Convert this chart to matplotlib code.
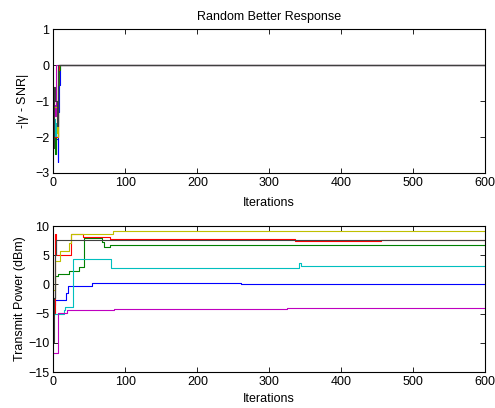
import matplotlib
matplotlib.use("Agg")
import matplotlib.pyplot as plt

plt.rcParams['font.family'] = ['Liberation Sans', 'DejaVu Sans']
plt.rcParams['mathtext.fontset'] = 'custom'
plt.rcParams['mathtext.rm'] = 'Liberation Sans'
plt.rcParams['mathtext.it'] = 'Liberation Sans'

# MATLAB default colour order
colors = [(0, 0, 1), (0, 0.5, 0), (1, 0, 0), (0, 0.75, 0.75),
          (0.75, 0, 0.75), (0.75, 0.75, 0), (0.25, 0.25, 0.25)]

# -|gamma - SNR| per user: iterations where the value changes, and the new value
snr_iter = [
    [0, 6, 7, 8, 9, 600],
    [0, 2, 3, 7, 8, 9, 600],
    [0, 1, 2, 7, 8, 600],
    [0, 2, 3, 6, 600],
    [0, 2, 4, 600],
    [0, 5, 6, 7, 600],
    [0, 1, 2, 5, 6, 7, 600],
]
snr_vals = [
    [-2.05, -2.7, -1.3, -0.56, 0, 0],
    [-1.9, -2.47, -2.0, -0.56, -0.14, 0, 0],
    [-0.6, -1.8, -2.0, -0.14, 0, 0],
    [-1.5, -1.97, -1.6, 0, 0],
    [-1.1, -1.4, 0, 0],
    [-1.15, -1.9, -2.0, 0, 0],
    [-2.3, -0.6, -1.0, -1.7, -0.4, 0, 0],
]

# Transmit power (dBm) per user: iterations where the value changes, and the new value
pow_iter = [
    [0, 2, 18, 20, 53, 261, 600],
    [0, 2, 7, 21, 35, 42, 67, 70, 79, 600],
    [0, 2, 4, 25, 41, 79, 336, 455, 600],
    [0, 14, 16, 27, 80, 342, 344, 600],
    [0, 7, 19, 84, 324, 600],
    [0, 2, 9, 21, 24, 83, 600],
    [0, 1, 2, 3, 600],
]
pow_vals = [
    [-3.5, -2.65, -1.5, -0.3, 0.2, 0.0, 0.0],
    [-2.4, 1.4, 1.85, 2.35, 3.0, 8.0, 7.2, 6.4, 6.7, 6.7],
    [-5.0, 8.7, 5.0, 8.6, 8.1, 7.83, 7.5, 7.67, 7.67],
    [-5.0, -4.4, -3.9, 4.35, 2.75, 3.6, 3.15, 3.15],
    [-11.8, -4.95, -4.3, -4.15, -3.95, -3.95],
    [-0.9, 4.0, 5.8, 7.1, 8.7, 9.2, 9.2],
    [-9.8, -2.4, 5.0, 7.67, 7.67],
]

x_ticks = [0, 100, 200, 300, 400, 500, 600]
snr_ticks = [-3, -2, -1, 0, 1]
pow_ticks = [-15, -10, -5, 0, 5, 10]

fig = plt.figure(figsize=(4.95, 4.08), dpi=100)
ax1 = fig.add_axes([0.108, 0.576, 0.872, 0.352])
ax2 = fig.add_axes([0.108, 0.088, 0.872, 0.358])

fs = 9
for xs, ys, c in zip(snr_iter, snr_vals, colors):
    ax1.step(xs, ys, where='post', color=c, lw=0.8)
for xs, ys, c in zip(pow_iter, pow_vals, colors):
    ax2.step(xs, ys, where='post', color=c, lw=0.8)

for ax, yt in ((ax1, snr_ticks), (ax2, pow_ticks)):
    ax.set_xlim(0, 600)
    ax.set_ylim(yt[0], yt[-1])
    ax.set_xticks(x_ticks)
    ax.set_yticks(yt)
    ax.tick_params(direction='in', top=True, right=True, length=3.5,
                   width=0.6, labelsize=fs, pad=3)
    for s in ax.spines.values():
        s.set_linewidth(0.8)
    ax.set_xlabel('Iterations', fontsize=fs)

ax1.set_title('Random Better Response', fontsize=fs, pad=7)
ax1.set_ylabel(r'-|$\gamma$ - SNR|', fontsize=fs)
ax2.set_ylabel('Transmit Power (dBm)', fontsize=fs)

ax1.xaxis.set_label_coords(0.5, -0.165)
ax2.xaxis.set_label_coords(0.5, -0.145)
ax1.yaxis.set_label_coords(-0.053, 0.5)
ax2.yaxis.set_label_coords(-0.064, 0.5)

fig.savefig('out.png', dpi=100)
